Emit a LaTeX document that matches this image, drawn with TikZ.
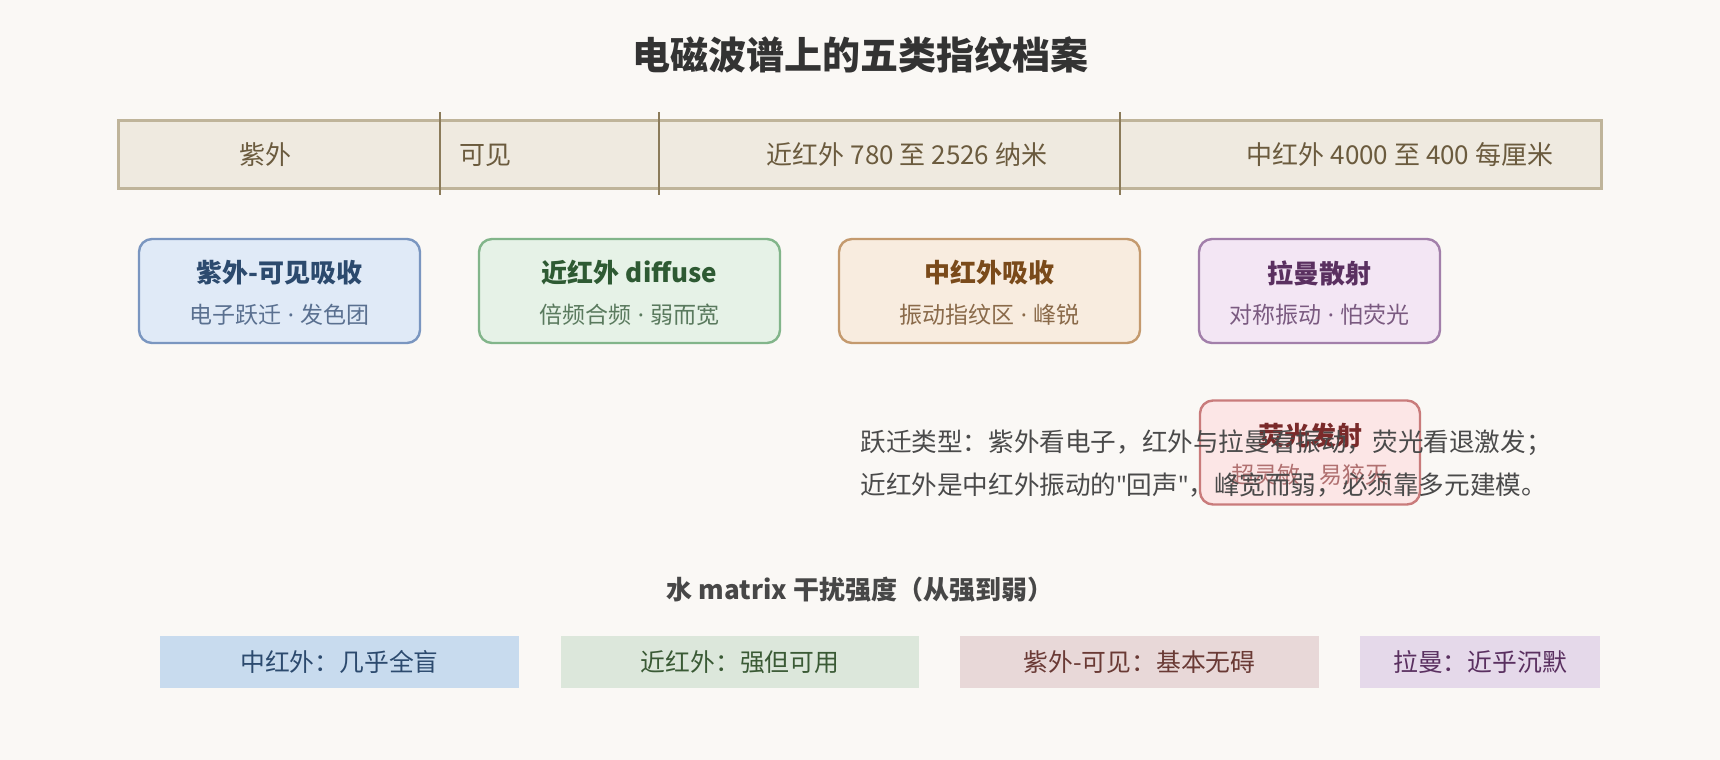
\documentclass[tikz,border=0pt]{standalone}
\usepackage{fontspec}
\setmainfont{Noto Sans CJK SC}
\newfontfamily\latinfont{Noto Sans}
\usetikzlibrary{positioning}

\newcommand{\midsep}{{\latinfont\ ·\ }}
\newcommand{\straightq}{{\latinfont"}}

\definecolor{paper}{HTML}{FAF8F5}
\definecolor{titleink}{HTML}{333333}
\definecolor{textink}{HTML}{4A4A4A}
\definecolor{bandfill}{HTML}{EFEAE0}
\definecolor{bandedge}{HTML}{BFB49A}
\definecolor{bandline}{HTML}{8B7B5A}
\definecolor{bandink}{HTML}{6B5B3E}
\definecolor{uvfill}{HTML}{E0EAF7}
\definecolor{uvedge}{HTML}{7A96C0}
\definecolor{uvink}{HTML}{2C4A6E}
\definecolor{uvsub}{HTML}{5A7090}
\definecolor{nirfill}{HTML}{E6F2E7}
\definecolor{niredge}{HTML}{82B58A}
\definecolor{nirink}{HTML}{2E5A33}
\definecolor{nirsub}{HTML}{5A7A5E}
\definecolor{mirfill}{HTML}{F8ECDF}
\definecolor{miredge}{HTML}{C49A6E}
\definecolor{mirink}{HTML}{7A4A1A}
\definecolor{mirsub}{HTML}{8A6A4A}
\definecolor{ramfill}{HTML}{F3E6F4}
\definecolor{ramedge}{HTML}{A27FAA}
\definecolor{ramink}{HTML}{5A3060}
\definecolor{ramsub}{HTML}{7A5A80}
\definecolor{flufill}{HTML}{FCE6E6}
\definecolor{fluedge}{HTML}{C97B7B}
\definecolor{fluink}{HTML}{7A2A2A}
\definecolor{flusub}{HTML}{B07070}
\definecolor{barmir}{HTML}{C8DBEE}
\definecolor{barnir}{HTML}{DCE7DB}
\definecolor{baruv}{HTML}{E8D8D8}
\definecolor{barram}{HTML}{E5D9EA}
\definecolor{barnirink}{HTML}{3A5A35}
\definecolor{baruvink}{HTML}{6A3A35}

\begin{document}
\begin{tikzpicture}[x=0.5pt, y=-0.5pt,
		bandtext/.style={text=bandink, font=\fontsize{13}{15}\selectfont},
		card/.style={rounded corners=6.5pt, line width=1.2pt, minimum height=52pt, inner sep=0pt},
		cardtitle/.style={font=\fontsize{13}{15}\selectfont\bfseries},
		cardsub/.style={font=\fontsize{11.5}{13}\selectfont},
		bar/.style={minimum height=26pt, inner sep=0pt, font=\fontsize{12.4}{14}\selectfont}
		]
	% paper
	\fill[paper] (0,0) rectangle (1720,760);
	\useasboundingbox (0,0) rectangle (1720,760);

	\node[text=titleink, font=\fontsize{19}{22}\selectfont\bfseries] (title) at (860,55) {电磁波谱上的五类指纹档案};

	% spectrum band
	\node[draw=bandedge, line width=1.5pt, fill=bandfill, minimum width=741.5pt, minimum height=34pt, inner sep=0pt] (band) at (859.5,154) {};
	\foreach \x in {440,659,1120}
		\draw[bandline, line width=0.8pt] (\x,112) -- (\x,195);
	\node[bandtext] (uvband) at (265.5,155) {紫外};
	\node[bandtext] (visband) at (485,155) {可见};
	\node[bandtext] (nirband) at (907,155) {近红外 780 至 2526 纳米};
	\node[bandtext] (mirband) at (1400,155) {中红外 4000 至 400 每厘米};

	% technique cards
	\node[card, draw=uvedge, fill=uvfill, minimum width=140.5pt] (uv) at (279.5,291) {};
	\node[cardtitle, text=uvink] (uvtitle) at (279.5,273) {紫外-可见吸收};
	\node[cardsub, text=uvsub] (uvnote) at (279.5,315) {电子跃迁\midsep 发色团};

	\node[card, draw=niredge, fill=nirfill, minimum width=150.5pt] (nir) at (629.5,291) {};
	\node[cardtitle, text=nirink] (nirtitle) at (629.5,273) {近红外 diffuse};
	\node[cardsub, text=nirsub] (nirnote) at (629.5,315) {倍频合频\midsep 弱而宽};

	\node[card, draw=miredge, fill=mirfill, minimum width=150.5pt] (mir) at (989.5,291) {};
	\node[cardtitle, text=mirink] (mirtitle) at (989.5,273) {中红外吸收};
	\node[cardsub, text=mirsub] (mirnote) at (989.5,315) {振动指纹区\midsep 峰锐};

	\node[card, draw=ramedge, fill=ramfill, minimum width=120.5pt] (ram) at (1319.5,291) {};
	\node[cardtitle, text=ramink] (ramtitle) at (1319.5,273) {拉曼散射};
	\node[cardsub, text=ramsub] (ramnote) at (1319.5,315) {对称振动\midsep 怕荧光};

	\node[card, draw=fluedge, fill=flufill, minimum width=110pt] (flu) at (1310,452.5) {};
	\node[cardtitle, text=fluink] (flutitle) at (1310,435.5) {荧光发射};
	\node[cardsub, text=flusub] (flunote) at (1310,475) {超灵敏\midsep 易猝灭};

	% note
	\node[anchor=west, text=textink, align=left, inner sep=0pt, font=\fontsize{12.8}{21.5}\selectfont] (note) at (860,463.5)
		{跃迁类型：紫外看电子，红外与拉曼看振动，荧光看退激发；\\近红外是中红外振动的\straightq 回声\straightq ，峰宽而弱，必须靠多元建模。};

	% water interference
	\node[text=titleink!90, font=\fontsize{13}{15}\selectfont\bfseries] (water) at (860,590) {水 matrix 干扰强度（从强到弱）};
	\node[bar, fill=barmir, text=uvink, minimum width=179.5pt] (mirbar) at (339.5,662) {中红外：几乎全盲};
	\node[bar, fill=barnir, text=barnirink, minimum width=179pt] (nirbar) at (740,662) {近红外：强但可用};
	\node[bar, fill=baruv, text=baruvink, minimum width=179.5pt] (uvbar) at (1139.5,662) {紫外-可见：基本无碍};
	\node[bar, fill=barram, text=ramink, minimum width=120pt] (rambar) at (1480,662) {拉曼：近乎沉默};
\end{tikzpicture}
\end{document}
